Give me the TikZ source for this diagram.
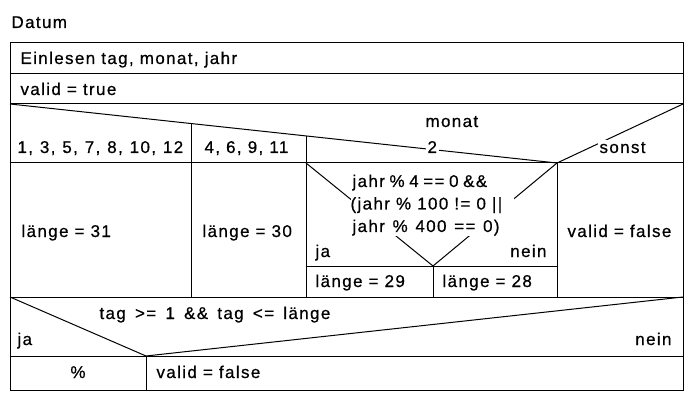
\documentclass[tikz,border=0pt]{standalone}
\usepackage{fontspec}
\setmainfont{Liberation Sans}[LetterSpace=8,FakeBold=0.6]
\newcommand{\wsp}[1]{\spaceskip=#1pt\relax}
\begin{document}
\begin{tikzpicture}[x=1pt,y=-1pt,line width=1pt,
  lbl/.style={font=\fontsize{17}{22.5}\selectfont, inner sep=0pt, anchor=base west},
  lblr/.style={lbl, anchor=base east},
  lblc/.style={lbl, anchor=base},
  mask/.style={fill=white, inner sep=2pt},
  condbox/.style={fill=white, inner sep=0pt, anchor=north west, minimum width=163pt, minimum height=66pt}]
\useasboundingbox (0,0) rectangle (694,401);
\fill[white] (0,0) rectangle (694,401);
% frame and rows
\draw (10,43) rectangle (683,390);
\draw (10,74) -- (683,74);
\draw (10,104) -- (683,104);
\draw (10,163) -- (683,163);
\draw (10,297) -- (683,297);
\draw (10,356) -- (683,356);
% case header
\draw (10,104) -- (557,163) -- (683,104);
\draw (191,123.5) -- (191,297);
\draw (306,135.9) -- (306,297);
\draw (557,163) -- (557,297);
% inner if
\draw (306,163) -- (433,266) -- (557,163);
\draw (306,266) -- (557,266);
\draw (433,266) -- (433,297);
% bottom if
\draw (10,297) -- (146,356) -- (683,297);
\draw (146,356) -- (146,390);
% texts
\node[lbl] (title) at (11,28) {Datum};
\node[lbl] (read) at (20,64) {Einlesen tag, monat, jahr};
\node[lbl] (init) at (20,95) {valid = true};
\node[lbl] (sel) at (425,127) {monat};
\node[lbl,mask,anchor=base west] (c2) at (425,153) {2};
\node[lbl,mask,anchor=base west] (csonst) at (597,153) {sonst};
\node[lbl] (c1) at (17,153) {\wsp{6.9}1, 3, 5, 7, 8, 10, 12};
\node[lbl] (c4) at (204,153) {4, 6, 9, 11};
\node[lbl] (l31) at (21,237) {länge = 31};
\node[lbl] (l30) at (202,237) {länge = 30};
\node[lbl] (vf1) at (567,237) {valid = false};
\node[condbox] (condbg) at (350,169) {};
\node[lbl] (cond1) at (352,187) {\wsp{4.6}jahr \% 4 == 0 \&\&};
\node[lbl] (cond2) at (350,209.5) {(jahr \% 100 != 0 ||};
\node[lbl] (cond3) at (352,232) {\wsp{7.7}jahr \% 400 == 0)};
\node[lbl] (ija) at (315,257) {ja};
\node[lblr] (inein) at (547,257) {nein};
\node[lbl] (l29) at (315,287) {länge = 29};
\node[lbl] (l28) at (442,287) {länge = 28};
\node[lbl] (bcond) at (99,319) {\wsp{9.2}tag >= 1 \&\& tag <= länge};
\node[lbl] (bja) at (17,345) {ja};
\node[lblr] (bnein) at (672,345) {nein};
\node[lblc] (pct) at (78,378) {\%};
\node[lbl] (vf2) at (156,378) {valid = false};
\end{tikzpicture}
\end{document}
